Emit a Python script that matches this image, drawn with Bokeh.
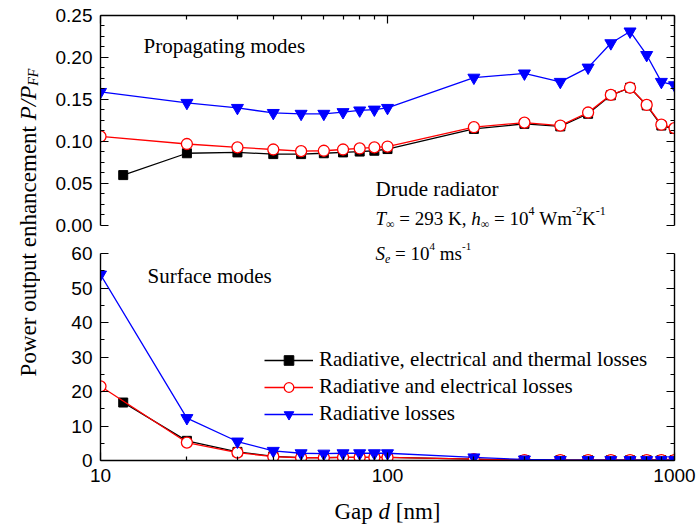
import numpy as np
from bokeh.plotting import figure
from bokeh.models import (Range1d, LinearAxis, FixedTicker, NumeralTickFormatter,
                          Label, Legend, LegendItem)
from bokeh.layouts import row, column
from bokeh.embed import file_html
from bokeh.resources import INLINE

# ---------------- data ----------------
gap = [10, 20, 30, 40, 50, 60, 70, 80, 90, 100, 200, 300, 400, 500, 600, 700, 800, 900, 1000]
gap_all_losses = [12, 20, 30, 40, 50, 60, 70, 80, 90, 100, 200, 300, 400, 500, 600, 700, 800, 900, 1000]

# propagating modes (top panel)
prop_all_losses = [0.060, 0.086, 0.087, 0.085, 0.085, 0.086, 0.087, 0.088, 0.089, 0.091,
                   0.115, 0.121, 0.118, 0.133, 0.155, 0.164, 0.143, 0.119, 0.115]
prop_elec_losses = [0.106, 0.097, 0.093, 0.0905, 0.0885, 0.089, 0.0905, 0.0917, 0.093, 0.094,
                    0.117, 0.1225, 0.119, 0.1345, 0.1555, 0.164, 0.1435, 0.120, 0.116]
prop_rad_losses = [0.159, 0.146, 0.140, 0.134, 0.133, 0.133, 0.135, 0.137, 0.138, 0.140,
                   0.176, 0.181, 0.171, 0.188, 0.217, 0.231, 0.203, 0.171, 0.167]

# surface modes (bottom panel)
surf_all_losses = [16.8, 5.7, 2.5, 1.2, 0.85, 0.85, 0.9, 0.9, 0.9, 0.9,
                   0.4, 0.12, 0.1, 0.1, 0.1, 0.1, 0.1, 0.1, 0.1]
surf_elec_losses = [21.5, 5.2, 2.3, 1.1, 0.8, 0.8, 0.9, 0.9, 0.9, 0.9,
                    0.4, 0.12, 0.1, 0.1, 0.1, 0.1, 0.1, 0.1, 0.1]
surf_rad_losses = [53.9, 12.3, 5.5, 2.8, 2.1, 2.0, 2.1, 2.1, 2.1, 2.1,
                   0.9, 0.3, 0.15, 0.12, 0.12, 0.12, 0.12, 0.12, 0.12]

series_names = ["Radiative, electrical and thermal losses",
                "Radiative and electrical losses",
                "Radiative losses"]

x_major = [10, 100, 1000]
x_minor = [20, 30, 40, 50, 60, 70, 80, 90, 200, 300, 400, 500, 600, 700, 800, 900]
top_major = [0.0, 0.05, 0.10, 0.15, 0.20, 0.25]
bot_major = [0, 10, 20, 30, 40, 50, 60]

# ---------------- styling helpers ----------------
SERIF = "Liberation Serif"
SANS = "Liberation Sans"

ROMAN = {' ': 250, '=': 564, '0': 500, '1': 500, '2': 500, '3': 500, '4': 500, '9': 500,
         'K': 722, ',': 250, 'W': 944, 'm': 778, 's': 389, '-': 333, 'G': 722, 'a': 444,
         'p': 500, '[': 333, 'n': 500, ']': 333, 'P': 556, 'o': 500, 'w': 722, 'e': 444,
         'r': 333, 'u': 500, 't': 278, 'h': 500, 'c': 444, '\u221e': 713}
ITALIC = {' ': 250, 'T': 556, 'h': 500, 'S': 500, 'e': 444, 'd': 500, 'P': 611, '/': 278,
          'F': 611, '\u221e': 713}


def text_width(s, size, italic):
    tab = ITALIC if italic else ROMAN
    return sum(tab.get(ch, 500) for ch in s) * size / 1000.0


def place_pieces(fig, pieces, x0, y0, vertical=False):
    """pieces: (text, size, italic, offset perpendicular to baseline)"""
    pos = 0.0
    for txt, size, italic, off in pieces:
        body = txt.lstrip(' ')
        lead = text_width(txt[:len(txt) - len(body)], size, italic)
        body = body.rstrip(' ')
        if body:
            p = pos + lead
            if vertical:
                lab = Label(x=x0 + off, y=y0 + p, angle=np.pi / 2)
            else:
                lab = Label(x=x0 + p, y=y0 + off)
            lab.x_units = "screen"
            lab.y_units = "screen"
            lab.text = body
            lab.text_font = SERIF
            lab.text_font_style = "italic" if italic else "normal"
            lab.text_font_size = f"{size}px"
            lab.text_color = "black"
            lab.text_baseline = "alphabetic"
            lab.text_align = "left"
            fig.add_layout(lab)
        pos += text_width(txt, size, italic)


def style_axis(ax, show_labels=True):
    ax.axis_line_color = "black"
    ax.axis_line_width = 1.4
    ax.major_tick_line_color = "black"
    ax.minor_tick_line_color = "black"
    ax.major_tick_line_width = 1.2
    ax.minor_tick_line_width = 1.2
    ax.major_tick_in = 8
    ax.major_tick_out = 0
    ax.minor_tick_in = 4
    ax.minor_tick_out = 0
    ax.major_label_text_font = SANS
    if show_labels:
        ax.major_label_text_font_size = "19px"
        ax.major_label_text_color = "black"
    else:
        ax.major_label_text_font_size = "1px"
        ax.major_label_text_color = None
        ax.major_label_standoff = 0


W = 656
# top panel: frame spans page y 15..236, value 0 sits at y 225
top = figure(width=W, height=236, x_axis_type="log", x_range=Range1d(10, 1000),
             y_range=Range1d(-0.0131, 0.25), x_axis_location="above",
             output_backend="svg", toolbar_location=None,
             min_border_left=60, min_border_right=22, min_border_top=15, min_border_bottom=0)
# bottom panel: frame spans page y 236..460, value 60 sits at y 253
bot = figure(width=W, height=255, x_axis_type="log", x_range=top.x_range,
             y_range=Range1d(0, 64.93),
             output_backend="svg", toolbar_location=None,
             min_border_left=60, min_border_right=22, min_border_top=0, min_border_bottom=31)

top_minor = [float(v) for v in np.round(np.arange(0, 0.2501, 0.0125), 4) if v not in top_major]
bot_minor = [5, 15, 25, 35, 45, 55]

for fig, majors, minors, fmt in [(top, top_major, top_minor, "0.00"), (bot, bot_major, bot_minor, "0")]:
    fig.outline_line_color = None
    fig.grid.visible = False
    fig.background_fill_color = "white"
    fig.border_fill_color = "white"
    bounds = (majors[0], majors[-1])
    for ax in fig.xaxis:
        ax.ticker = FixedTicker(ticks=x_major, minor_ticks=x_minor)
        ax.formatter = NumeralTickFormatter(format="0")
        style_axis(ax)
        ax.major_label_standoff = 8
    ly = fig.yaxis[0]
    ly.ticker = FixedTicker(ticks=majors, minor_ticks=minors)
    ly.formatter = NumeralTickFormatter(format=fmt)
    ly.bounds = bounds
    style_axis(ly)
    ly.major_label_standoff = 8
    ry = LinearAxis(ticker=FixedTicker(ticks=majors, minor_ticks=minors))
    ry.bounds = bounds
    style_axis(ry, show_labels=False)
    fig.add_layout(ry, "right")

style_axis(top.xaxis[0], show_labels=False)

LW = 1.3


def draw(fig, xa, ya, xb, yb, xc, yc):
    r1l = fig.line(xa, ya, line_color="black", line_width=LW)
    r1m = fig.scatter(xa, ya, marker="square", size=9, fill_color="black", line_color="black")
    r2l = fig.line(xb, yb, line_color="red", line_width=LW)
    r2m = fig.scatter(xb, yb, marker="circle", size=11, fill_color="white", line_color="red",
                      line_width=1.3)
    r3l = fig.line(xc, yc, line_color="blue", line_width=LW)
    r3m = fig.scatter(xc, yc, marker="inverted_triangle", size=12, fill_color="blue",
                      line_color="blue")
    return [(r1l, r1m), (r2l, r2m), (r3l, r3m)]


draw(top, gap_all_losses, prop_all_losses, gap, prop_elec_losses, gap, prop_rad_losses)
rends = draw(bot, gap_all_losses, surf_all_losses, gap, surf_elec_losses, gap, surf_rad_losses)

legend = Legend(items=[LegendItem(label=n, renderers=list(r)) for n, r in zip(series_names, rends)],
                location=(164, 34), orientation="vertical")
legend.padding = 0
legend.margin = 0
legend.spacing = 2
legend.glyph_width = 49
legend.glyph_height = 24
legend.label_height = 24
legend.label_standoff = 6
legend.border_line_color = None
legend.background_fill_alpha = 0
legend.label_text_font = SERIF
legend.label_text_font_size = "21px"
legend.label_text_color = "black"
bot.add_layout(legend, "center")

# ---------------- annotations ----------------
place_pieces(top, [("Propagating modes", 21, False, 0)], 43, 191)
place_pieces(top, [("Drude radiator", 21, False, 0)], 275, 48)
place_pieces(top, [("T", 19, True, 0), ("\u221e", 12, False, -5),
                   (" = 293 K, ", 19, False, 0), ("h", 19, True, 0), ("\u221e", 12, False, -5),
                   (" = 10", 19, False, 0), ("4", 12, False, 8), (" Wm", 19, False, 0),
                   ("-2", 12, False, 8), ("K", 19, False, 0), ("-1", 12, False, 8)], 275, 18)
place_pieces(bot, [("S", 19, True, 0), ("e", 12, True, -5), (" = 10", 19, False, 0),
                   ("4", 11, False, 7), (" ms", 19, False, 0), ("-1", 11, False, 7)], 275, 207)
place_pieces(bot, [("Surface modes", 21, False, 0)], 47, 185)

# x axis label strip (its frame lines up with the panels' frames above)
xlab = figure(width=W, height=40, x_range=Range1d(0, 1), y_range=Range1d(0, 1),
              x_axis_location=None, y_axis_location=None, output_backend="svg",
              toolbar_location=None, min_border=0)
xlab.outline_line_color = None
xlab.grid.visible = False
xl = [("Gap ", 23, False, 0), ("d", 23, True, 0), (" [nm]", 23, False, 0)]
xl_w = sum(text_width(t, s, i) for t, s, i, _ in xl)
place_pieces(xlab, xl, 287 - xl_w / 2, 20)

# y axis label strip
ylab = figure(width=40, height=531, x_range=Range1d(0, 1), y_range=Range1d(0, 1),
              x_axis_location=None, y_axis_location=None, output_backend="svg",
              toolbar_location=None, min_border=0)
ylab.outline_line_color = None
ylab.grid.visible = False
yl = [("Power output enhancement ", 23, False, 0), ("P/P", 23, True, 0), ("FF", 14, True, 5)]
yl_w = sum(text_width(t, s, i) for t, s, i, _ in yl)
place_pieces(ylab, yl, 28, (531 - 222) - yl_w / 2, vertical=True)

layout = row(ylab, column(top, bot, xlab, spacing=0), spacing=0)

with open("out.html", "w") as f:
    f.write(file_html(layout, INLINE))
